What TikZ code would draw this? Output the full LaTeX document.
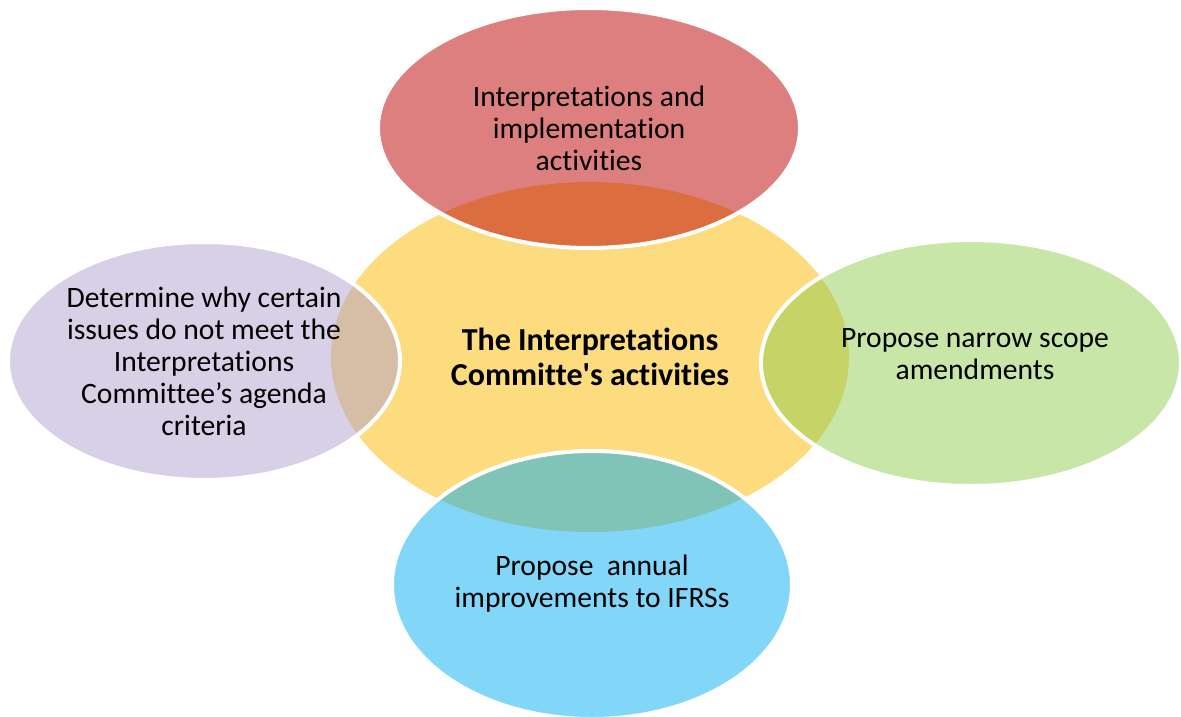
\documentclass[tikz,border=0pt]{standalone}
\usepackage{fontspec}
\setmainfont{Carlito}[Ligatures={TeXOff,CommonOff}]
\usetikzlibrary{shapes.geometric}
\definecolor{cyel}{RGB}{253,220,128}
\definecolor{cred}{RGB}{189,0,0}
\definecolor{cgrn}{RGB}{145,205,79}
\definecolor{cpur}{RGB}{177,161,205}
\definecolor{cblu}{RGB}{5,173,239}
\tikzset{
  blob/.style={ellipse, inner sep=0pt, draw=white, line width=4pt, fill opacity=0.5, draw opacity=1},
  lbl/.style={align=center, font=\fontsize{29.6}{32}\selectfont, text=black},
}
\begin{document}
\begin{tikzpicture}[x=1pt,y=-1pt]
\useasboundingbox (0,0) rectangle (1181,717);
\node[ellipse, inner sep=0pt, fill=cyel, minimum width=518pt, minimum height=350pt] (core) at (590,357) {};
\node[blob, fill=cred, minimum width=422pt, minimum height=240pt] (top) at (589,128) {};
\node[blob, fill=cgrn, minimum width=420pt, minimum height=246pt] (right) at (971,363) {};
\node[blob, fill=cpur, minimum width=392pt, minimum height=238pt] (left) at (204,361) {};
\node[blob, fill=cblu, minimum width=400pt, minimum height=268pt] (bottom) at (592,585) {};
\node[lbl, font=\fontsize{32}{35}\selectfont\bfseries] (coret) at (590,357) {The Interpretations\\Committe's activities};
\node[lbl] (topt) at (589,128) {Interpretations and\\implementation\\activities};
\node[lbl] (rightt) at (975,354) {Propose narrow scope\\amendments};
\node[lbl] (leftt) at (204,361) {Determine why certain\\issues do not meet the\\Interpretations\\Committee’s agenda\\criteria};
\node[lbl] (bottomt) at (592,584) {Propose\ \ annual\\improvements to IFRSs};
\end{tikzpicture}
\end{document}
